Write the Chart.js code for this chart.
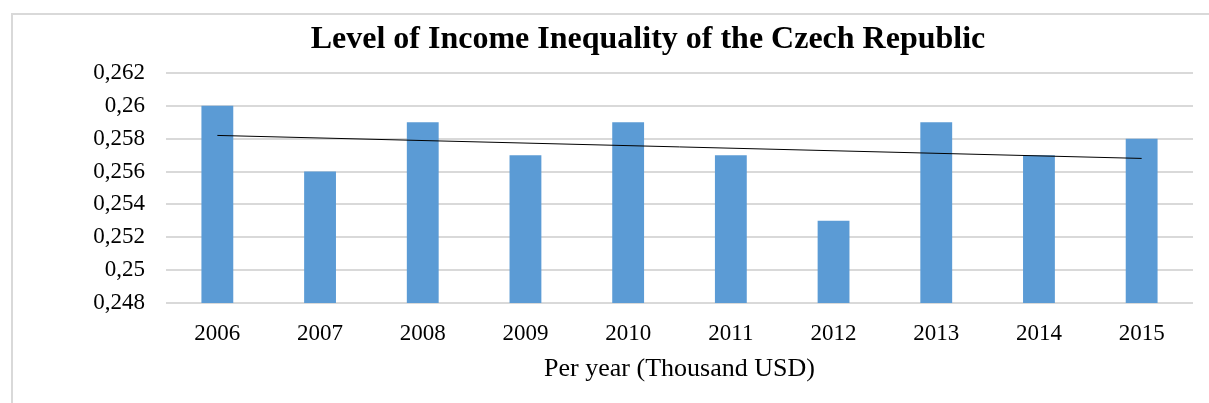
<!DOCTYPE html>
<html>
<head>
<meta charset="utf-8">
<script src="https://cdn.jsdelivr.net/npm/chart.js@4"></script>
<style>
  html, body { margin: 0; padding: 0; background: #fff; overflow: hidden; }
  #wrap { position: relative; width: 1209px; height: 403px; }
  #cadre { position: absolute; left: 11px; top: 13px; width: 1250px; height: 450px; border: 2px solid #d9d9d9; }
  canvas { position: absolute; left: 0; top: 0; }
</style>
</head>
<body>
<div id="wrap">
  <div id="cadre"></div>
  <canvas id="graphGini" width="1209" height="403"></canvas>
</div>
<script>
// données
const annees = ['2006', '2007', '2008', '2009', '2010', '2011', '2012', '2013', '2014', '2015'];
const gini = [0.260, 0.256, 0.259, 0.257, 0.259, 0.257, 0.253, 0.259, 0.257, 0.258];
// courbe de tendance : seulement les extrémités (droite)
const tendance = [0.2582, null, null, null, null, null, null, null, null, 0.2568];
const ticksY = [0.248, 0.25, 0.252, 0.254, 0.256, 0.258, 0.26, 0.262];
const titre = 'Level of Income Inequality of the Czech Republic';

const police = "'Liberation Serif', 'Times New Roman', serif";

// titre dessiné à la main : il n'est pas centré sur le canvas dans l'original
const pluginTitre = {
    id: 'titreDecale',
    afterDraw: function(chart) {
        const c = chart.ctx;
        c.save();
        c.font = 'bold 32px ' + police;
        c.fillStyle = '#000';
        c.textAlign = 'center';
        c.textBaseline = 'alphabetic';
        c.fillText(titre, 648, 48);
        c.restore();
    }
};

const ctx = document.getElementById('graphGini').getContext('2d');
new Chart(ctx, {
    type: 'bar',
    data: {
        labels: annees,
        datasets: [{
            type: 'line',
            label: 'Tendance',
            data: tendance,
            borderColor: '#000000',
            borderWidth: 1,
            pointRadius: 0,
            spanGaps: true,
            fill: false,
            order: 0
        }, {
            label: 'Gini',
            data: gini,
            backgroundColor: '#5b9bd5',
            borderWidth: 0,
            categoryPercentage: 1,
            barPercentage: 0.31,
            order: 1
        }]
    },
    options: {
        responsive: false,
        animation: false,
        layout: { padding: { left: 20, right: 16, top: 73, bottom: 0 } },
        plugins: {
            legend: { display: false },
            tooltip: { enabled: false },
            title: { display: false }
        },
        scales: {
            x: {
                grid: { display: false },
                border: { display: false },
                ticks: {
                    color: '#000',
                    font: { family: police, size: 23 },
                    padding: 9,
                    maxRotation: 0
                },
                title: {
                    display: true,
                    text: 'Per year (Thousand USD)',
                    color: '#000',
                    font: { family: police, size: 26 },
                    padding: { top: 0, bottom: 18 }
                },
                afterFit: function(axis) { axis.height = 100; }
            },
            y: {
                min: 0.248,
                max: 0.262,
                afterBuildTicks: function(axis) {
                    axis.ticks = ticksY.map(v => ({ value: v }));
                },
                grid: { color: '#d9d9d9', lineWidth: 2, drawTicks: false },
                border: { display: false },
                ticks: {
                    color: '#000',
                    font: { family: police, size: 23 },
                    padding: 21,
                    callback: function(v) {
                        return String(Math.round(v * 1000) / 1000).replace('.', ',');
                    }
                },
                afterFit: function(axis) { axis.width = 146; }
            }
        }
    },
    plugins: [pluginTitre]
});
</script>
</body>
</html>
